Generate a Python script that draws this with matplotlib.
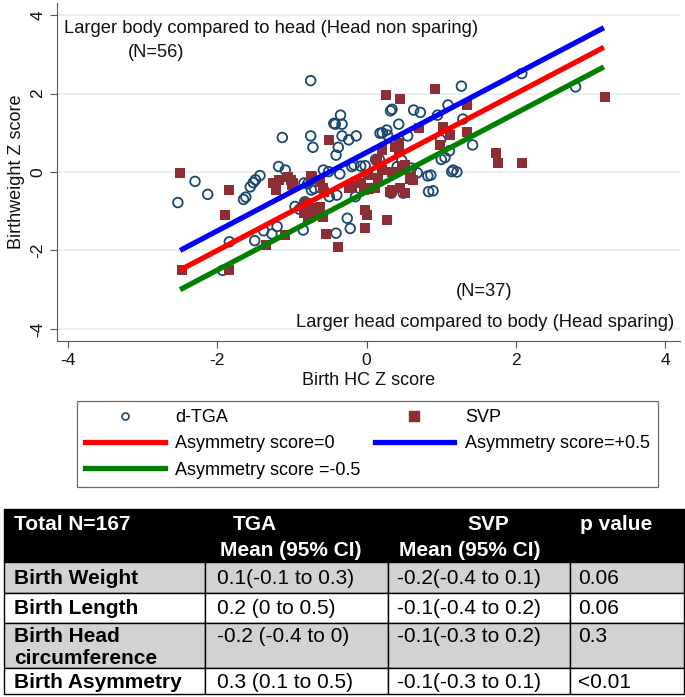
import numpy as np
import matplotlib.pyplot as plt
from matplotlib.patches import Rectangle
from matplotlib.lines import Line2D

plt.rcParams['font.family'] = ['Liberation Sans', 'DejaVu Sans']
plt.rcParams['axes.unicode_minus'] = False

# d-TGA points (Birth HC Z score, Birthweight Z score)
tga_x = [-2.53, -2.30, -2.13, -1.93, -1.84, -1.65, -1.62, -1.56, -1.52, -1.49,
         -1.43, -1.50, -1.38, -1.27, -1.20, -1.18, -1.09, -1.13, -0.96, -0.90,
         -0.85, -0.84, -0.79, -0.83, -0.75, -0.75, -0.72, -0.74, -0.70, -0.58,
         -0.51, -0.50, -0.44, -0.42, -0.41, -0.41, -0.40, -0.38, -0.36, -0.35,
         -0.33, -0.33, -0.26, -0.24, -0.22, -0.20, -0.17, -0.15, -0.14, -0.08,
         -0.02, 0.06, 0.12, 0.17, 0.18, 0.21, 0.27, 0.28, 0.32, 0.34,
         0.33, 0.41, 0.43, 0.47, 0.49, 0.55, 0.60, 0.63, 0.68, 0.72,
         0.82, 0.83, 0.86, 0.89, 0.95, 0.99, 1.00, 1.05, 1.09, 1.11,
         1.14, 1.16, 1.21, 1.27, 1.29, 1.42, 2.08, 2.80]
tga_y = [-0.78, -0.24, -0.57, -2.51, -1.78, -0.70, -0.64, -0.38, -0.27, -0.20,
         -0.09, -1.75, -1.50, -1.58, -1.39, 0.14, 0.05, 0.88, -0.88, -0.95,
         -1.48, -0.28, -0.30, -0.76, 2.33, 0.92, 0.63, -0.46, -0.42, 0.05,
         0.01, -0.63, 1.24, 1.22, 0.43, -1.56, -0.59, 0.63, -0.05, 1.45,
         1.22, 0.92, -1.18, 0.82, -1.44, 0.14, 0.18, -0.63, 0.92, 0.15,
         0.16, -0.42, 0.32, 0.32, 0.99, 1.00, 1.07, 0.94, 1.56, 1.60,
         -0.54, 0.14, 1.22, 0.30, -0.54, 0.92, 0.10, 1.58, -0.02, 1.52,
         -0.10, -0.50, -0.08, -0.48, 1.45, 0.82, 0.32, 0.37, 1.71, 0.54,
         0.01, 0.05, 0.00, 2.19, 1.35, 0.69, 2.51, 2.17]

# SVP points
svp_x = [-2.50, -2.47, -1.90, -1.85, -1.84, -1.35, -1.26, -1.22, -1.18, -1.10,
         -1.05, -1.02, -1.00, -0.99, -0.84, -0.81, -0.78, -0.75, -0.73, -0.72,
         -0.71, -0.63, -0.62, -0.58, -0.58, -0.57, -0.54, -0.50, -0.39, -0.23,
         -0.19, -0.08, -0.04, -0.02, -0.02, 0.01, 0.02, 0.05, 0.11, 0.14,
         0.15, 0.20, 0.21, 0.27, 0.26, 0.31, 0.34, 0.34, 0.38, 0.43,
         0.43, 0.45, 0.45, 0.47, 0.51, 0.52, 0.58, 0.59, 0.62, 0.70,
         0.92, 0.99, 1.02, 1.12, 1.35, 1.35, 1.74, 1.76, 2.08, 3.19]
svp_y = [-0.03, -2.50, -1.10, -0.46, -2.50, -1.86, -0.27, -0.46, -0.20, -1.60,
         -0.14, -0.20, -0.33, -0.27, -1.05, -0.80, -1.18, -0.10, -0.12, -0.93,
         -1.05, -0.25, -0.88, -1.14, -0.40, -0.50, -1.59, 0.82, -1.90, -0.42,
         -0.35, -0.27, -0.46, -0.97, -1.43, -1.10, -0.08, -0.42, -0.42, 0.30,
         -0.16, 0.05, 0.56, -1.22, 1.96, -0.50, -0.46, 0.01, 0.63, 0.56,
         0.73, 1.85, -0.42, 0.14, 0.18, -0.53, -0.19, -0.12, -0.20, 1.11,
         2.11, 0.69, 1.16, 0.94, 1.03, 1.71, 0.48, 0.22, 0.22, 1.92]

# asymmetry reference lines: weight z = HC z + score
line_x = [-2.5, 3.18]
asym_scores = [0.0, 0.5, -0.5]
asym_labels = ['Asymmetry score=0', 'Asymmetry score=+0.5', 'Asymmetry score =-0.5']
asym_colors = ['#ff0000', '#0000ff', '#008000']

# table
header_top = ['Total N=167', 'TGA', 'SVP', 'p value']
header_bottom = ['', 'Mean (95% CI)', 'Mean (95% CI)', '']
row_labels = [['Birth Weight'], ['Birth Length'], ['Birth Head', 'circumference'], ['Birth Asymmetry']]
tga_ci = ['0.1(-0.1 to 0.3)', '0.2 (0 to 0.5)', '-0.2 (-0.4 to 0)', '0.3 (0.1 to 0.5)']
svp_ci = ['-0.2(-0.4 to 0.1)', '-0.1(-0.4 to 0.2)', '-0.1(-0.3 to 0.2)', '-0.1(-0.3 to 0.1)']
p_values = ['0.06', '0.06', '0.3', '<0.01']

W, H = 685, 697
fig = plt.figure(figsize=(W / 100, H / 100), dpi=100)

ax = fig.add_axes([57 / W, 1 - 341 / H, 623 / W, 338 / H])
ax.set_xlim(-4.15, 4.2)
ax.set_ylim(-4.31, 4.31)
for y in [-4, -2, 0, 2, 4]:
    ax.axhline(y, color='#e4ecf0', lw=1.2, zorder=0)

ax.scatter(tga_x, tga_y, s=48, facecolors='none', edgecolors='#1a476f', linewidths=1.3, zorder=2)
ax.scatter(svp_x, svp_y, s=62, marker='s', color='#8c2e33', linewidths=0, zorder=3)
for score, col in zip(asym_scores, asym_colors):
    ax.plot(line_x, [v + score for v in line_x], color=col, lw=3.8, solid_capstyle='butt', zorder=4)

ax.spines['top'].set_visible(False)
ax.spines['right'].set_visible(False)
for s in ['left', 'bottom']:
    ax.spines[s].set_color('#555555')
ax.set_xticks([-4, -2, 0, 2, 4])
ax.set_yticks([-4, -2, 0, 2, 4])
ax.tick_params(labelsize=12.5, length=5, color='#555555', labelcolor='#111111')
ax.set_yticklabels(['-4', '-2', '0', '2', '4'], rotation=90, va='center')
ax.set_xlabel('Birth HC Z score', fontsize=13, labelpad=3, color='#111111')
ax.set_ylabel('Birthweight Z score', fontsize=13, labelpad=4, color='#111111')

ax.text(-4.05, 3.67, 'Larger body compared to head (Head non sparing)', fontsize=13.2, va='center', color='#111111')
ax.text(-3.2, 3.06, '(N=56)', fontsize=13.2, va='center', color='#111111')
ax.text(1.19, -3.06, '(N=37)', fontsize=13.2, va='center', color='#111111')
ax.text(4.12, -3.83, 'Larger head compared to body (Head sparing)', fontsize=13.2, va='center', ha='right', color='#111111')

handles = [
    Line2D([], [], ls='none', marker='o', markersize=5, mfc='none', mec='#1a476f', mew=1.2),
    Line2D([], [], color=asym_colors[0], lw=3.8),
    Line2D([], [], color=asym_colors[2], lw=3.8),
    Line2D([], [], ls='none', marker='s', markersize=7, color='#8c2e33'),
    Line2D([], [], color=asym_colors[1], lw=3.8),
]
labels = ['d-TGA', asym_labels[0], asym_labels[2], 'SVP', asym_labels[1]]
leg = fig.legend(handles, labels, loc='center', ncol=2, mode='expand',
                 bbox_to_anchor=(77 / W, 1 - 487 / H, 581 / W, 86 / H),
                 fontsize=13, handlelength=4.4, handletextpad=0.6,
                 labelspacing=0.5, borderaxespad=0, frameon=True, fancybox=False,
                 borderpad=0.45)
leg.get_frame().set_edgecolor('#444444')
leg.get_frame().set_linewidth(0.9)

# table drawn in pixel coordinates
tab = fig.add_axes([0, 0, 1, 1])
tab.set_xlim(0, W)
tab.set_ylim(H, 0)
tab.axis('off')
col_edges = [4, 205, 388, 570, 684]
row_edges = [509, 562, 593, 623, 668, 694]
row_fill = ['#000000', '#d2d2d2', '#ffffff', '#d2d2d2', '#ffffff']
for r in range(5):
    for c in range(4):
        tab.add_patch(Rectangle((col_edges[c], row_edges[r]), col_edges[c + 1] - col_edges[c],
                                row_edges[r + 1] - row_edges[r], facecolor=row_fill[r],
                                edgecolor='#000000', lw=1.0))

fs = 15
head_x = [14, 233, 467, 580]
sub_x = [14, 220, 399, 580]
for c in range(4):
    tab.text(head_x[c], 525, header_top[c], color='white', fontsize=fs, fontweight='bold', va='center')
    tab.text(sub_x[c], 550, header_bottom[c], color='white', fontsize=fs, fontweight='bold', va='center')

row_y = [578, 608, 636, 682]
for r in range(4):
    for k, line in enumerate(row_labels[r]):
        tab.text(14, row_y[r] + 22 * k, line, fontsize=fs, fontweight='bold', va='center')
    tab.text(217, row_y[r], tga_ci[r], fontsize=fs, va='center')
    tab.text(397, row_y[r], svp_ci[r], fontsize=fs, va='center')
    tab.text(578, row_y[r], p_values[r], fontsize=fs, va='center')

fig.savefig('out.png', dpi=100)
